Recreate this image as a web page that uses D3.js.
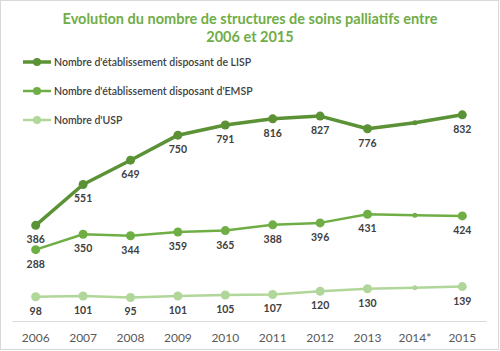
<!DOCTYPE html>
<html>
<head>
<meta charset="utf-8">
<script src="https://cdn.jsdelivr.net/npm/d3@7"></script>
<style>
  body { margin: 0; background: #fff; }
  svg { display: block; font-family: Lato, "Open Sans", sans-serif; }
</style>
</head>
<body>
<div id="chart"></div>
<script>
// data
var years = ["2006", "2007", "2008", "2009", "2010", "2011", "2012", "2013", "2014*", "2015"];
var lisp = [386, 551, 649, 750, 791, 816, 827, 776, 800, 832];
var emsp = [288, 350, 344, 359, 365, 388, 396, 431, 427, 424];
var usp = [98, 101, 95, 101, 105, 107, 120, 130, 134, 139];
var seriesNames = ["Nombre d'établissement disposant de LISP", "Nombre d'établissement disposant d'EMSP", "Nombre d'USP"];
var hideLabel = "2014*"; // no value label or big marker for this year

var W = 500, H = 351;
var colors = ["#5b9235", "#6fae45", "#b1d69a"];
var widths = [3.5, 2.5, 2.5];

var series = [lisp, emsp, usp].map(function(vals, i) {
    return { name: seriesNames[i], color: colors[i], width: widths[i],
             values: vals.map(function(v, j) { return { year: years[j], value: v }; }) };
});

var svg = d3.select("#chart").append("svg")
    .attr("width", W).attr("height", H);

// outer frame
svg.append("rect")
    .attr("x", 0.5).attr("y", 0.5)
    .attr("width", W - 2).attr("height", H - 2)
    .attr("fill", "#fff").attr("stroke", "#d9d9d9");

// title
svg.append("text")
    .attr("x", 250).attr("text-anchor", "middle")
    .attr("fill", "#70ad47").attr("font-weight", "bold").attr("font-size", 14.5)
    .selectAll("tspan")
    .data(["Evolution du nombre de structures de soins palliatifs entre", "2006 et 2015"])
    .enter().append("tspan")
    .attr("x", 250)
    .attr("y", function(d, i) { return 24 + i * 18; })
    .text(function(d) { return d; });

var x = d3.scaleBand().domain(years).range([12, 486]);
var y = d3.scaleLinear().domain([0, 900]).range([321, 98]);

// x axis
var xAxis = svg.append("g")
    .attr("transform", "translate(0,321)")
    .call(d3.axisBottom(x).tickSize(0).tickPadding(12));
xAxis.select(".domain").attr("stroke", "#d9d9d9");
xAxis.selectAll("text")
    .attr("font-family", "Lato, sans-serif")
    .attr("font-size", 12).attr("fill", "#595959");

var line = d3.line()
    .x(function(d) { return x(d.year) + x.bandwidth() / 2; })
    .y(function(d) { return y(d.value); });

var g = svg.selectAll(".series")
    .data(series.slice().reverse())
    .enter().append("g").attr("class", "series");

g.append("path")
    .attr("d", function(d) { return line(d.values); })
    .attr("fill", "none")
    .attr("stroke", function(d) { return d.color; })
    .attr("stroke-width", function(d) { return d.width; })
    .attr("stroke-linejoin", "round");

g.selectAll("circle")
    .data(function(d) { return d.values.map(function(v) { return { v: v, s: d }; }); })
    .enter().append("circle")
    .attr("cx", function(d) { return x(d.v.year) + x.bandwidth() / 2; })
    .attr("cy", function(d) { return y(d.v.value); })
    .attr("r", function(d) { return d.v.year === hideLabel ? 2.5 : 4.5; })
    .attr("fill", function(d) { return d.s.color; });

g.selectAll(".lbl")
    .data(function(d) { return d.values.filter(function(v) { return v.year !== hideLabel; }); })
    .enter().append("text")
    .attr("class", "lbl")
    .attr("x", function(d) { return x(d.year) + x.bandwidth() / 2; })
    .attr("y", function(d) { return y(d.value) + 18; })
    .attr("text-anchor", "middle")
    .attr("font-size", 10.5).attr("font-weight", "bold")
    .attr("fill", "#404040")
    .text(function(d) { return d.value; });

// legend
var legend = svg.selectAll(".legend")
    .data(series)
    .enter().append("g")
    .attr("transform", function(d, i) { return "translate(0," + (62 + i * 29) + ")"; });

legend.append("line")
    .attr("x1", 23).attr("x2", 51)
    .attr("stroke", function(d) { return d.color; })
    .attr("stroke-width", function(d) { return d.width; });
legend.append("circle")
    .attr("cx", 37).attr("r", 4)
    .attr("fill", function(d) { return d.color; });
legend.append("text")
    .attr("x", 54).attr("dy", "0.35em")
    .attr("font-size", 10.5).attr("font-weight", 600)
    .attr("fill", "#404040")
    .text(function(d) { return d.name; });
</script>
</body>
</html>
